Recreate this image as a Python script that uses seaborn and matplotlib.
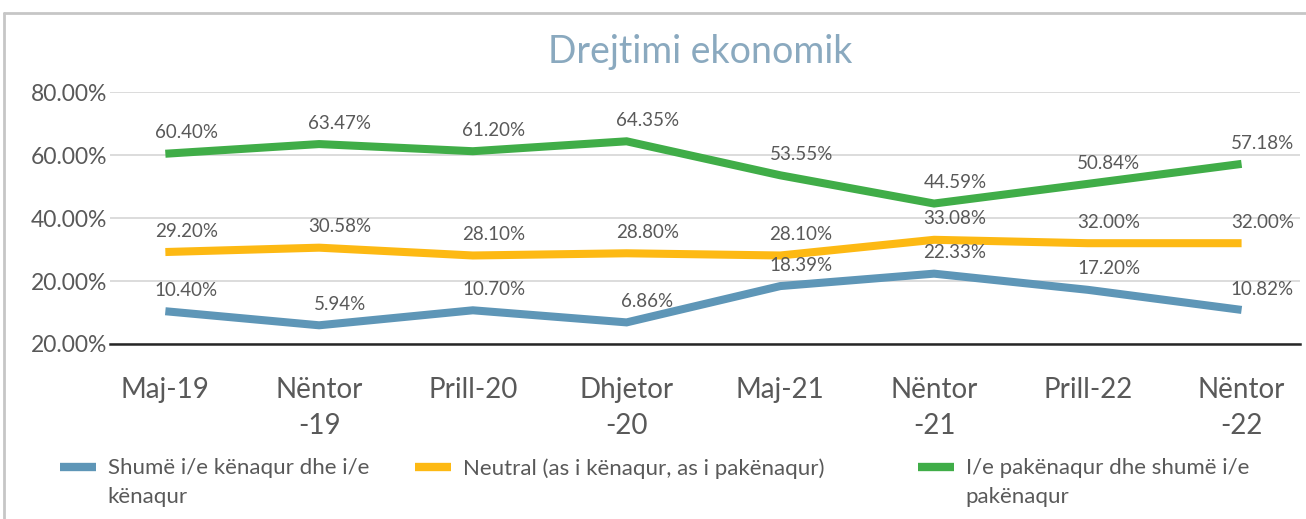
import numpy as np
import pandas as pd
import seaborn as sns
import matplotlib.pyplot as plt
from matplotlib.lines import Line2D

# data
periods = ['Maj-19', 'Nëntor\n-19', 'Prill-20', 'Dhjetor\n-20',
           'Maj-21', 'Nëntor\n-21', 'Prill-22', 'Nëntor\n-22']
kenaqur = [10.40, 5.94, 10.70, 6.86, 18.39, 22.33, 17.20, 10.82]
neutral = [29.20, 30.58, 28.10, 28.80, 28.10, 33.08, 32.00, 32.00]
pakenaqur = [60.40, 63.47, 61.20, 64.35, 53.55, 44.59, 50.84, 57.18]
series_names = ['Shumë i/e kënaqur dhe i/e\nkënaqur',
                'Neutral (as i kënaqur, as i pakënaqur)',
                'I/e pakënaqur dhe shumë i/e\npakënaqur']
yticks = [0.0, 0.2, 0.4, 0.6, 0.8]
ytick_labels = ['20.00%', '20.00%', '40.00%', '60.00%', '80.00%']
colors = ['#5e96b7', '#fdb913', '#40ad48']
title = 'Drejtimi ekonomik'


class FirstLineHandle:
    """legend line drawn level with the first line of a wrapped label"""

    def __init__(self, shift):
        self.shift = shift

    def legend_artist(self, legend, orig_handle, fontsize, handlebox):
        w, h = handlebox.width, handlebox.height
        xd, yd = handlebox.xdescent, handlebox.ydescent
        y = (h - yd) / 2 + self.shift
        ln = Line2D([-xd, -xd + w], [y, y], color=orig_handle.get_color(),
                    lw=orig_handle.get_linewidth(), solid_capstyle='butt')
        handlebox.add_artist(ln)
        return ln


def main():
    sns.set_style('white')
    plt.rcParams['font.family'] = ['Lato', 'DejaVu Sans']
    grey = '#595959'

    rows = []
    for name, vals in zip(series_names, [kenaqur, neutral, pakenaqur]):
        for i, v in enumerate(vals):
            rows.append({'pos': i, 'value': v / 100, 'series': name})
    df = pd.DataFrame(rows)

    fig = plt.figure(figsize=(13.06, 5.19), dpi=100)
    W, H = 1306, 519
    ax = fig.add_axes([110 / W, 1 - 344 / H, (1300 - 110) / W, (344 - 92) / H])

    sns.lineplot(data=df, x='pos', y='value', hue='series',
                 hue_order=series_names, palette=colors, lw=5.8,
                 sort=False, legend=False, ax=ax)
    for ln in ax.get_lines():
        ln.set_solid_capstyle('butt')
        ln.set_solid_joinstyle('miter')

    ax.set_ylim(0, 0.8)
    ax.set_xlim(-0.36, len(periods) - 1 + 0.38)
    ax.set_yticks(yticks)
    ax.set_yticklabels(ytick_labels, fontsize=16.5, color=grey)
    ax.set_xticks(np.arange(len(periods)))
    ax.set_xticklabels(periods, fontsize=20, color=grey, linespacing=1.45)
    ax.tick_params(axis='x', length=0, pad=24)
    ax.tick_params(axis='y', length=0, pad=2)
    ax.set_xlabel('')
    ax.set_ylabel('')
    ax.grid(axis='y', color='#d9d9d9', lw=1.3)
    ax.set_axisbelow(True)
    sns.despine(ax=ax, left=True)
    ax.spines['bottom'].set_color('#262626')
    ax.spines['bottom'].set_linewidth(1.8)
    ax.spines['bottom'].set_zorder(5)

    for vals in [kenaqur, neutral, pakenaqur]:
        for i, v in enumerate(vals):
            ax.annotate(f'{v:.2f}%', (i, v / 100), xytext=(15, 15),
                        textcoords='offset points', ha='center', va='center',
                        fontsize=13.5, color=grey)

    fig.text(700 / W, 1 - 52 / H, title, ha='center', va='center',
             fontsize=27, color='#8aa9bf')

    # legend: one box per series, placed like the reference
    lefts = [60, 415, 918]
    for name, c, x0 in zip(series_names, colors, lefts):
        h = Line2D([], [], color=c, lw=6)
        shift = 11.5 if '\n' in name else 0
        leg = fig.legend(handles=[h], labels=[name], loc='upper left',
                         bbox_to_anchor=(x0 / W, 1 - 458 / H), frameon=False,
                         borderpad=0, borderaxespad=0, handlelength=1.6,
                         handletextpad=0.55, fontsize=16, labelcolor=grey,
                         handler_map={h: FirstLineHandle(shift)})
        for t in leg.get_texts():
            t.set_linespacing(1.55)

    # chart border (top and left only visible)
    fig.add_artist(Line2D([4 / W, 4 / W], [0, 1 - 13 / H],
                          transform=fig.transFigure, color='#c6c6c6', lw=2))
    fig.add_artist(Line2D([4 / W, 1], [1 - 13 / H, 1 - 13 / H],
                          transform=fig.transFigure, color='#c6c6c6', lw=2))

    plt.savefig('out.png', dpi=100)


if __name__ == '__main__':
    main()
